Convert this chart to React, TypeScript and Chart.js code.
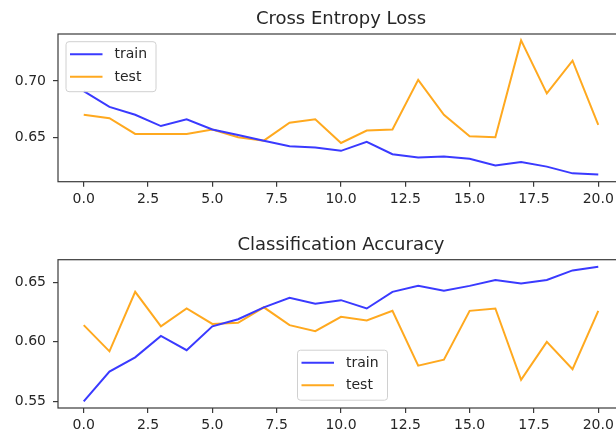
import React, { useEffect, useRef } from "react";
import { Chart, registerables } from "chart.js";

Chart.register(...registerables);

// ---------- data ----------
const epochs = [0, 1, 2, 3, 4, 5, 6, 7, 8, 9, 10, 11, 12, 13, 14, 15, 16, 17, 18, 19, 20];
const seriesNames = ["train", "test"];

const lossTrain = [0.691, 0.677, 0.670, 0.660, 0.666, 0.657, 0.652, 0.647, 0.642, 0.641, 0.638, 0.646, 0.635, 0.632, 0.633, 0.631, 0.625, 0.628, 0.624, 0.618, 0.617];
const lossTest = [0.670, 0.667, 0.653, 0.653, 0.653, 0.657, 0.650, 0.647, 0.663, 0.666, 0.645, 0.656, 0.657, 0.701, 0.670, 0.651, 0.650, 0.736, 0.689, 0.718, 0.661];

const accTrain = [0.550, 0.575, 0.587, 0.605, 0.593, 0.613, 0.619, 0.629, 0.637, 0.632, 0.635, 0.628, 0.642, 0.647, 0.643, 0.647, 0.652, 0.649, 0.652, 0.660, 0.663];
const accTest = [0.614, 0.592, 0.642, 0.613, 0.628, 0.615, 0.616, 0.629, 0.614, 0.609, 0.621, 0.618, 0.626, 0.580, 0.585, 0.626, 0.628, 0.568, 0.600, 0.577, 0.626];

const xTicks = [0, 2.5, 5, 7.5, 10, 12.5, 15, 17.5, 20];
const lossTicks = [0.65, 0.7];
const accTicks = [0.55, 0.6, 0.65];

const lossTitle = "Cross Entropy Loss";
const accTitle = "Classification Accuracy";

const xRange = [-1, 21];
const lossRange = [0.6106, 0.7417];
const accRange = [0.5444, 0.669];

// ---------- styles ----------
const TRAIN_COLOR = "#3a3aff";
const TEST_COLOR = "#ffa91f";
const AXIS_COLOR = "#3a3a3a";
const TEXT_COLOR = "#262626";
const FONT = "'DejaVu Sans', sans-serif";

const decorPlugin = {
  id: "mplDecor",
  afterDatasetsDraw(chart: any, _args: any, opts: any) {
    const { ctx, chartArea: a } = chart;
    ctx.save();
    // frame (spines)
    ctx.strokeStyle = AXIS_COLOR;
    ctx.lineWidth = 1.2;
    ctx.strokeRect(a.left, a.top, a.right - a.left, a.bottom - a.top);
    // title
    ctx.fillStyle = TEXT_COLOR;
    ctx.font = `18px ${FONT}`;
    ctx.textAlign = "center";
    ctx.textBaseline = "alphabetic";
    ctx.fillText(opts.title, (a.left + a.right) / 2, a.top - 10);
    // legend
    const L = opts.legend;
    const bx = a.left + L.x;
    const by = a.top + L.y;
    const r = 3;
    ctx.beginPath();
    ctx.moveTo(bx + r, by);
    ctx.lineTo(bx + L.w - r, by);
    ctx.arcTo(bx + L.w, by, bx + L.w, by + r, r);
    ctx.lineTo(bx + L.w, by + L.h - r);
    ctx.arcTo(bx + L.w, by + L.h, bx + L.w - r, by + L.h, r);
    ctx.lineTo(bx + r, by + L.h);
    ctx.arcTo(bx, by + L.h, bx, by + L.h - r, r);
    ctx.lineTo(bx, by + r);
    ctx.arcTo(bx, by, bx + r, by, r);
    ctx.closePath();
    ctx.fillStyle = "rgba(255,255,255,0.85)";
    ctx.fill();
    ctx.strokeStyle = "#d0d0d0";
    ctx.lineWidth = 1;
    ctx.stroke();
    ctx.font = `14px ${FONT}`;
    ctx.textAlign = "left";
    ctx.textBaseline = "middle";
    chart.data.datasets.forEach((ds: any, i: number) => {
      const ry = by + L.row0 + i * L.gap;
      ctx.strokeStyle = ds.borderColor;
      ctx.lineWidth = ds.borderWidth;
      ctx.beginPath();
      ctx.moveTo(bx + L.lx0, ry);
      ctx.lineTo(bx + L.lx1, ry);
      ctx.stroke();
      ctx.fillStyle = TEXT_COLOR;
      ctx.fillText(ds.label, bx + L.tx, ry + 0.5);
    });
    ctx.restore();
  },
};

function makeConfig(
  train: number[],
  test: number[],
  yRange: number[],
  yTicks: number[],
  title: string,
  legendPos: { x: number; y: number },
  padTop: number,
  xAxisH: number
): any {
  const toPts = (arr: number[]) => epochs.map((e, i) => ({ x: e, y: arr[i] }));
  const tickFont = { family: FONT, size: 14 };
  return {
    type: "line",
    data: {
      datasets: [
        { label: seriesNames[0], data: toPts(train), borderColor: TRAIN_COLOR, borderWidth: 2, pointRadius: 0, tension: 0, fill: false },
        { label: seriesNames[1], data: toPts(test), borderColor: TEST_COLOR, borderWidth: 2, pointRadius: 0, tension: 0, fill: false },
      ],
    },
    options: {
      responsive: false,
      animation: false,
      events: [],
      layout: { padding: { top: padTop, left: 0, right: 6, bottom: 0 } },
      plugins: {
        legend: { display: false },
        title: { display: false },
        tooltip: { enabled: false },
        mplDecor: {
          title,
          legend: { x: legendPos.x, y: legendPos.y, w: 90, h: 50, row0: 12.5, gap: 22.5, lx0: 4, lx1: 36.5, tx: 48.5 },
        },
      },
      scales: {
        x: {
          type: "linear",
          min: xRange[0],
          max: xRange[1],
          afterBuildTicks: (s: any) => {
            s.ticks = xTicks.map((v) => ({ value: v }));
          },
          afterFit: (s: any) => {
            s.height = xAxisH;
          },
          grid: { drawOnChartArea: false, drawTicks: true, tickLength: 5, color: AXIS_COLOR, lineWidth: 1.2 },
          border: { display: false },
          ticks: {
            autoSkip: false,
            maxRotation: 0,
            padding: 4,
            color: TEXT_COLOR,
            font: tickFont,
            callback: (v: any) => Number(v).toFixed(1),
          },
        },
        y: {
          type: "linear",
          min: yRange[0],
          max: yRange[1],
          afterBuildTicks: (s: any) => {
            s.ticks = yTicks.map((v) => ({ value: v }));
          },
          afterFit: (s: any) => {
            s.width = 58;
          },
          grid: { drawOnChartArea: false, drawTicks: true, tickLength: 5, color: AXIS_COLOR, lineWidth: 1.2 },
          border: { display: false },
          ticks: {
            padding: 7,
            color: TEXT_COLOR,
            font: tickFont,
            callback: (v: any) => Number(v).toFixed(2),
          },
        },
      },
    },
    plugins: [decorPlugin],
  };
}

export default function App() {
  const topRef = useRef<HTMLCanvasElement | null>(null);
  const botRef = useRef<HTMLCanvasElement | null>(null);

  useEffect(() => {
    const c1 = new Chart(
      topRef.current as HTMLCanvasElement,
      makeConfig(lossTrain, lossTest, lossRange, lossTicks, lossTitle, { x: 8, y: 7.7 }, 34, 37.3)
    );
    const c2 = new Chart(
      botRef.current as HTMLCanvasElement,
      makeConfig(accTrain, accTest, accRange, accTicks, accTitle, { x: 239.5, y: 90.5 }, 40.7, 30)
    );
    return () => {
      c1.destroy();
      c2.destroy();
    };
  }, []);

  return (
    <div
      style={{
        position: "fixed",
        left: 0,
        top: 0,
        width: 616,
        height: 438,
        overflow: "hidden",
        background: "#fff",
      }}
    >
      <canvas ref={topRef} width={630} height={219} style={{ position: "absolute", left: 0, top: 0, width: 630, height: 219 }} />
      <canvas ref={botRef} width={630} height={219} style={{ position: "absolute", left: 0, top: 219, width: 630, height: 219 }} />
    </div>
  );
}
